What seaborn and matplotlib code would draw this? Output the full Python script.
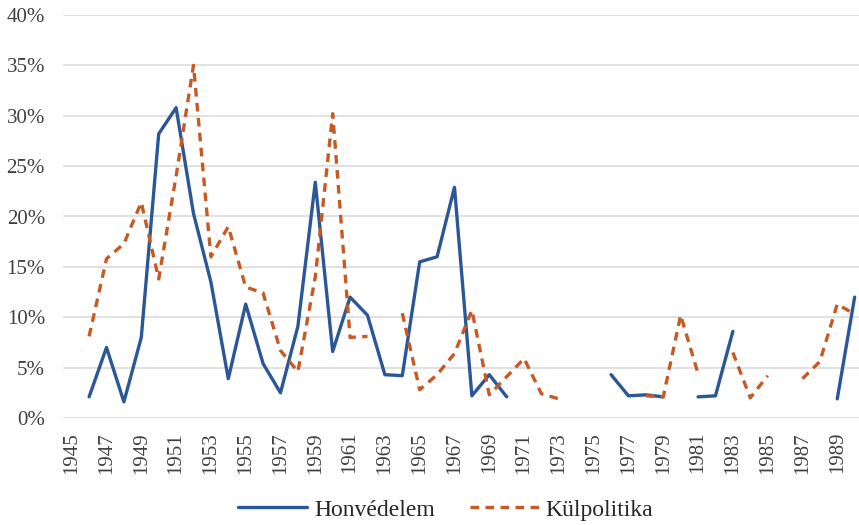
import numpy as np
import pandas as pd
import matplotlib
matplotlib.use("Agg")
import matplotlib.pyplot as plt
import matplotlib.ticker as ticker
from matplotlib.lines import Line2D
import seaborn as sns

nan = np.nan

years = list(range(1945, 1991))

# share of topics per year, in %
honvedelem = [nan, 2.1, 7.0, 1.6, 8.0, 28.2, 30.8, 20.3, 13.5, 3.9,
              11.3, 5.4, 2.5, 9.1, 23.4, 6.6, 12.0, 10.2, 4.3, 4.2,
              15.5, 16.0, 22.9, 2.2, 4.3, 2.1, nan, nan, nan, nan,
              nan, 4.3, 2.2, 2.3, 2.1, nan, 2.1, 2.2, 8.6, nan,
              nan, nan, nan, nan, 1.9, 12.0]
kulpolitika = [nan, 8.1, 15.8, 17.3, 21.4, 13.8, 24.0, 35.0, 16.0, 19.0,
               13.0, 12.4, 6.7, 4.6, 14.0, 30.2, 8.0, 8.1, nan, 10.4,
               2.8, 4.3, 6.4, 10.7, 2.3, 4.1, 5.9, 2.4, 1.9, nan,
               nan, nan, nan, 2.2, 2.1, 10.2, 4.4, nan, 6.5, 2.0,
               4.2, nan, 3.9, 5.6, 11.3, 10.3]

series_names = ["Honvédelem", "Külpolitika"]
colors = ["#2B5797", "#C65A24"]
dash = (0, (2.6, 1.9))

sns.set_style("white")
plt.rcParams["font.family"] = ["Liberation Serif", "DejaVu Serif"]

fig = plt.figure(figsize=(8.59, 5.25), dpi=100)
ax = fig.add_axes([63 / 859, 1 - 418 / 525, 1 - 63 / 859, 403 / 525])


def segments(vals):
    # break the line where a year is missing
    df = pd.DataFrame({"year": years, "val": vals})
    df["seg"] = df["val"].isna().cumsum()
    return df.dropna()


df_h = segments(honvedelem)
df_k = segments(kulpolitika)

sns.lineplot(data=df_h, x="year", y="val", units="seg", estimator=None,
             color=colors[0], lw=2.4, ax=ax, solid_capstyle="round")
sns.lineplot(data=df_k, x="year", y="val", units="seg", estimator=None,
             color=colors[1], lw=2.4, ax=ax, linestyle=dash)

ax.set_xlim(1944.5, 1990.25)
ax.set_ylim(0, 40)
ax.set_xticks(range(1945, 1990, 2))
ax.set_xticklabels([str(y) for y in range(1945, 1990, 2)], rotation=90)
ax.yaxis.set_major_locator(ticker.MultipleLocator(5))
ax.yaxis.set_major_formatter(ticker.FormatStrFormatter("%d%%"))
ax.tick_params(axis="y", length=0, pad=13, labelsize=15, colors="#404040")
ax.tick_params(axis="x", length=0, pad=10, labelsize=15, colors="#404040")
ax.grid(axis="y", color="#D9D9D9", lw=1.1)
ax.set_axisbelow(True)
ax.set_xlabel("")
ax.set_ylabel("")
sns.despine(ax=ax, left=True, bottom=True)

handles = [Line2D([], [], color=colors[0], lw=2.4),
           Line2D([], [], color=colors[1], lw=2.4, linestyle=dash)]
fig.legend(handles, series_names, loc="center", bbox_to_anchor=(0.519, 0.029),
           ncol=2, frameon=False, fontsize=17, handlelength=2.9,
           handletextpad=0.3, columnspacing=1.5, borderpad=0, borderaxespad=0)

fig.savefig("out.png", dpi=100)
